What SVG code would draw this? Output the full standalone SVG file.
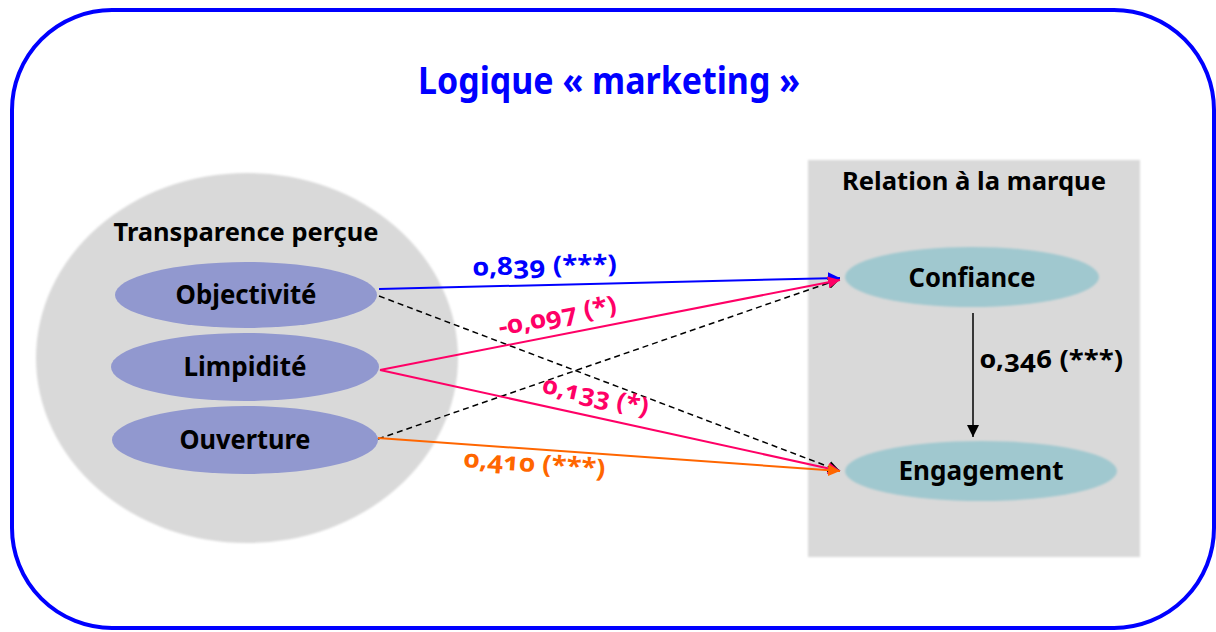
<svg xmlns="http://www.w3.org/2000/svg" width="1216" height="632" viewBox="0 0 1216 632">
<style>
text{font-family:"Noto Sans","Open Sans",sans-serif;font-weight:700;font-variant-numeric:oldstyle-nums}
.lbl{font-size:26px;fill:#000;text-anchor:middle}
.grp{font-size:25px;fill:#000;text-anchor:middle}
.coef{font-size:25px}
.oval{fill:#9198cf}
.tgt{fill:#a0c8cf}
</style>
<defs>
<filter id="soft" x="-5%" y="-5%" width="110%" height="110%"><feGaussianBlur stdDeviation="1"/></filter>
<marker id="aBlue" viewBox="0 0 10 10" refX="10" refY="5" markerWidth="12" markerHeight="12" markerUnits="userSpaceOnUse" orient="auto"><path d="M0,0L10,5L0,10z" fill="#0000ff"/></marker>
<marker id="aPink" viewBox="0 0 10 10" refX="10" refY="5" markerWidth="12" markerHeight="12" markerUnits="userSpaceOnUse" orient="auto"><path d="M0,0L10,5L0,10z" fill="#ff0066"/></marker>
<marker id="aOrange" viewBox="0 0 10 10" refX="10" refY="5" markerWidth="12" markerHeight="12" markerUnits="userSpaceOnUse" orient="auto"><path d="M0,0L10,5L0,10z" fill="#ff6600"/></marker>
<marker id="aBlack" viewBox="0 0 10 10" refX="10" refY="5" markerWidth="12" markerHeight="12" markerUnits="userSpaceOnUse" orient="auto"><path d="M0,0L10,5L0,10z" fill="#000"/></marker>
</defs>
<rect width="1216" height="632" fill="#fff"/>
<g id="frame">
<rect x="12" y="10" width="1202" height="618" rx="100" ry="100" fill="#fff" stroke="#0000ff" stroke-width="4"/>
<text x="609" y="94" fill="#0000ff" text-anchor="middle" textLength="382" lengthAdjust="spacingAndGlyphs" style="font-size:38px">Logique « marketing »</text>
</g>
<g id="transparence">
<ellipse cx="247" cy="358" rx="211" ry="185" fill="#d9d9d9" filter="url(#soft)"/>
<text class="grp" x="246" y="241" textLength="265" lengthAdjust="spacingAndGlyphs">Transparence perçue</text>
</g>
<g id="objectivite">
<ellipse class="oval" cx="246" cy="295" rx="131" ry="33"/>
<text class="lbl" x="246" y="304" textLength="141" lengthAdjust="spacingAndGlyphs">Objectivité</text>
</g>
<g id="limpidite">
<ellipse class="oval" cx="245" cy="367" rx="134" ry="34"/>
<text class="lbl" x="245" y="376" textLength="123" lengthAdjust="spacingAndGlyphs">Limpidité</text>
</g>
<g id="ouverture">
<ellipse class="oval" cx="245" cy="440" rx="133" ry="34"/>
<text class="lbl" x="245" y="449" textLength="131" lengthAdjust="spacingAndGlyphs">Ouverture</text>
</g>
<g id="relation">
<rect x="808" y="160" width="332" height="397" fill="#d9d9d9" filter="url(#soft)"/>
<text class="grp" x="974" y="190" textLength="264" lengthAdjust="spacingAndGlyphs">Relation à la marque</text>
</g>
<g id="confiance">
<ellipse class="tgt" cx="972" cy="277" rx="127" ry="30" filter="url(#soft)"/>
<text class="lbl" x="972" y="287" textLength="127" lengthAdjust="spacingAndGlyphs">Confiance</text>
</g>
<g id="engagement">
<ellipse class="tgt" cx="981" cy="471" rx="136" ry="30" filter="url(#soft)"/>
<text class="lbl" x="981" y="480" textLength="165" lengthAdjust="spacingAndGlyphs">Engagement</text>
</g>
<g id="connectors" fill="none" stroke-width="2">
<line x1="379" y1="296" x2="840" y2="471" stroke="#000" stroke-width="1.5" stroke-dasharray="6,4" marker-end="url(#aBlack)"/>
<line x1="378" y1="439" x2="840" y2="279" stroke="#000" stroke-width="1.5" stroke-dasharray="6,4" marker-end="url(#aBlack)"/>
<line x1="379" y1="289" x2="840" y2="278" stroke="#0000ff" marker-end="url(#aBlue)"/>
<line x1="380" y1="370" x2="840" y2="280" stroke="#ff0066" marker-end="url(#aPink)"/>
<line x1="380" y1="370" x2="840" y2="471" stroke="#ff0066" marker-end="url(#aPink)"/>
<line x1="378" y1="438" x2="840" y2="471" stroke="#ff6600" marker-end="url(#aOrange)"/>
<line x1="973" y1="313" x2="973" y2="437" stroke="#000" stroke-width="1.5" marker-end="url(#aBlack)"/>
</g>
<g id="labels">
<text class="coef" x="545" y="274" fill="#0000ff" text-anchor="middle" textLength="144" lengthAdjust="spacingAndGlyphs" transform="rotate(-1.3 545 274)">0,839 (***)</text>
<text class="coef" x="559" y="324" fill="#ff0066" text-anchor="middle" textLength="120" lengthAdjust="spacingAndGlyphs" transform="rotate(-11.2 559 324)">-0,097 (*)</text>
<text class="coef" x="594" y="404" fill="#ff0066" text-anchor="middle" textLength="108" lengthAdjust="spacingAndGlyphs" transform="rotate(12.4 594 404)">0,133 (*)</text>
<text class="coef" x="534" y="472" fill="#ff6600" text-anchor="middle" textLength="142" lengthAdjust="spacingAndGlyphs" transform="rotate(4.1 534 472)">0,410 (***)</text>
<text class="coef" x="980" y="368" fill="#000" textLength="143" lengthAdjust="spacingAndGlyphs">0,346 (***)</text>
</g>
</svg>
